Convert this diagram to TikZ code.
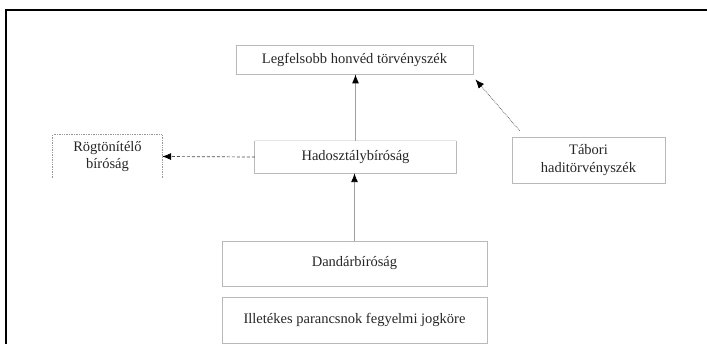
\documentclass[tikz,border=0pt]{standalone}
\usepackage{fontspec}
\setmainfont{Liberation Serif}
\usetikzlibrary{arrows.meta}
\begin{document}
\begin{tikzpicture}[x=1pt,y=-1pt,
  box/.style={draw=gray!55,line width=0.8pt,inner sep=0pt,align=center,
    font=\fontsize{14.5}{17}\selectfont,text=black!85},
  nobox/.style={inner sep=0pt,align=center,font=\fontsize{14.5}{17}\selectfont,text=black!85},
  tip/.style={-{Latex[length=9pt,width=7pt,color=black]}}
]
\useasboundingbox (0,0) rectangle (707,344);
\fill[white] (0,0) rectangle (707,344);
% frame
\draw[black,line width=2.2pt] (6,344) -- (6,10) -- (707,10);

\node[box,minimum width=237pt,minimum height=29pt] (top) at (354.5,59.5) {Legfelsobb honvéd törvényszék};
\node[nobox,minimum width=201pt,minimum height=32pt] (had) at (355.5,157) {Hadosztálybíróság};
\draw[gray!55,line width=0.8pt] (had.north west) -- (had.south west) -- (had.south east) -- (had.north east);
\draw[gray!20,line width=0.6pt] (had.north west) -- (had.north east);
\node[nobox,minimum width=109pt,minimum height=43pt] (rog) at (107.5,156.5) {Rögtönítélő\\bíróság};
\draw[gray!80,line width=0.7pt,densely dotted] (rog.south west) -- (rog.north west) -- (rog.north east) -- (rog.south east);
\node[box,minimum width=153pt,minimum height=46pt,font=\fontsize{14.5}{18}\selectfont] (tab) at (588.5,160) {Tábori\\haditörvényszék};
\node[box,minimum width=265pt,minimum height=45pt] (dand) at (354.5,263.5) {Dandárbíróság};
\node[box,minimum width=265pt,minimum height=46pt] (ill) at (354.5,320) {Illetékes parancsnok fegyelmi jogköre};

% connectors
\draw[gray!75,line width=0.9pt,tip] (dand.north) -- (dand.north |- had.south);
\draw[gray!75,line width=0.9pt,tip] (had.north) -- (had.north |- top.south);
\draw[black!70,line width=0.7pt,densely dotted,tip] ([shift={(8,-6)}]tab.north west) -- ([shift={(2,5)}]top.south east);
\draw[black!70,line width=0.7pt,densely dashed,tip] (had.west) -- (rog.east);
\end{tikzpicture}
\end{document}
